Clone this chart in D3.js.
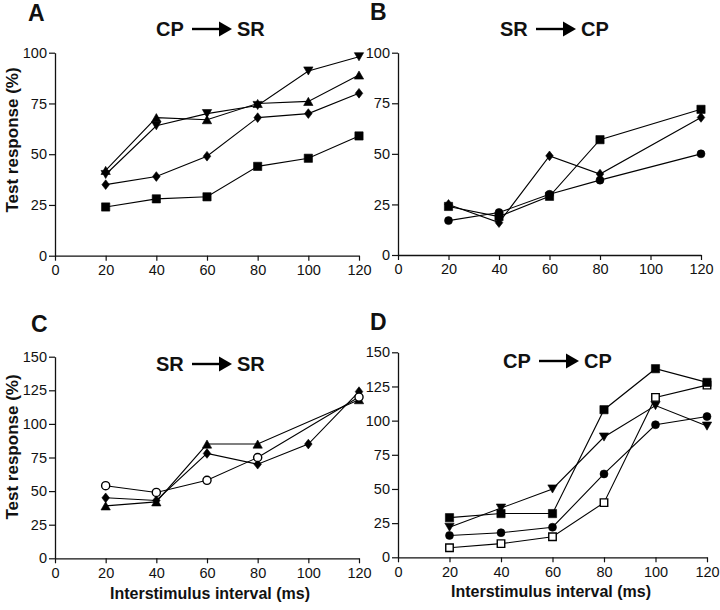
<!DOCTYPE html>
<html>
<head>
<meta charset="utf-8">
<script src="https://cdn.jsdelivr.net/npm/d3@7"></script>
<style>
  html, body { margin: 0; padding: 0; background: #fff; }
  svg { display: block; }
  text { font-family: "Liberation Sans", Arial, Helvetica, sans-serif; fill: #111; }
</style>
</head>
<body>
<svg id="chart" width="720" height="610"></svg>
<script>
// ---------------- DATA ----------------
const xTicks = [0, 20, 40, 60, 80, 100, 120];
const yTicksAB = [0, 25, 50, 75, 100];
const yTicksCD = [0, 25, 50, 75, 100, 125, 150];

const intervals6 = [20, 40, 60, 80, 100, 120];
const intervals5 = [20, 40, 60, 80, 120];

// Panel A: CP -> SR
const aTriDownX = intervals6, aTriDown = [40, 64, 70, 74, 91, 98];
const aTriUpX = intervals6,   aTriUp   = [42, 68, 67, 75, 76, 89];
const aDiamondX = intervals6, aDiamond = [35, 39, 49, 68, 70, 80];
const aSquareX = intervals6,  aSquare  = [24, 28, 29, 44, 48, 59];

// Panel B: SR -> CP
const bSquareX = intervals5,  bSquare  = [24, 19, 29, 57, 72];
const bDiamondX = intervals5, bDiamond = [25, 16, 49, 40, 68];
const bCircleX = intervals5,  bCircle  = [17, 21, 30, 37, 50];

// Panel C: SR -> SR
const cOpenCircleX = intervals5, cOpenCircle = [54, 49, 58, 75, 120];
const cDiamondX = intervals6,    cDiamond    = [45, 43, 78, 70, 85, 124];
const cTriUpX = intervals5,      cTriUp      = [39, 42, 85, 85, 118];

// Panel D: CP -> CP
const dSquareX = intervals6,     dSquare     = [29, 32, 32, 108, 138, 128];
const dOpenSquareX = intervals6, dOpenSquare = [7, 10, 15, 40, 117, 126];
const dTriDownX = intervals6,    dTriDown    = [22, 36, 50, 88, 111, 96];
const dCircleX = intervals6,     dCircle     = [16, 18, 22, 61, 97, 103];

// ---------------- MARKER SHAPES ----------------
const symSquare = { draw(c, s) { const h = Math.sqrt(s) / 2; c.rect(-h, -h, 2 * h, 2 * h); } };
const symDiamond = { draw(c, s) { const w = Math.sqrt(s) * 0.45, h = Math.sqrt(s) * 0.58;
  c.moveTo(0, -h); c.lineTo(w, 0); c.lineTo(0, h); c.lineTo(-w, 0); c.closePath(); } };
const symTriUp = { draw(c, s) { const w = Math.sqrt(s) * 0.55, h = Math.sqrt(s) * 0.48;
  c.moveTo(0, -h); c.lineTo(w, h); c.lineTo(-w, h); c.closePath(); } };
const symTriDown = { draw(c, s) { const w = Math.sqrt(s) * 0.55, h = Math.sqrt(s) * 0.48;
  c.moveTo(0, h); c.lineTo(w, -h); c.lineTo(-w, -h); c.closePath(); } };

const panels = [
  { letter: "A", from: "CP", to: "SR", yTicks: yTicksAB, yMax: 100,
    frame: { x0: 55, x1: 359, yb: 255.7, yt: 52.7 },
    letterPos: [28, 21], titlePos: [156, 36], ylabel: [18, 140], xlabel: null,
    series: [
      { x: aSquareX, y: aSquare, sym: symSquare, size: 68, fill: "#000" },
      { x: aDiamondX, y: aDiamond, sym: symDiamond, size: 70, fill: "#000" },
      { x: aTriUpX, y: aTriUp, sym: symTriUp, size: 72, fill: "#000" },
      { x: aTriDownX, y: aTriDown, sym: symTriDown, size: 72, fill: "#000" }
    ] },
  { letter: "B", from: "SR", to: "CP", yTicks: yTicksAB, yMax: 100,
    frame: { x0: 398, x1: 701, yb: 255, yt: 52.7 },
    letterPos: [370, 20], titlePos: [500, 36], ylabel: null, xlabel: null,
    series: [
      { x: bCircleX, y: bCircle, sym: d3.symbolCircle, size: 50, fill: "#000" },
      { x: bDiamondX, y: bDiamond, sym: symDiamond, size: 70, fill: "#000" },
      { x: bSquareX, y: bSquare, sym: symSquare, size: 68, fill: "#000" }
    ] },
  { letter: "C", from: "SR", to: "SR", yTicks: yTicksCD, yMax: 150,
    frame: { x0: 55, x1: 359, yb: 558.3, yt: 356.7 },
    letterPos: [31, 332], titlePos: [156, 371], ylabel: [18, 447], xlabel: [210, 599],
    series: [
      { x: cDiamondX, y: cDiamond, sym: symDiamond, size: 70, fill: "#000" },
      { x: cTriUpX, y: cTriUp, sym: symTriUp, size: 72, fill: "#000" },
      { x: cOpenCircleX, y: cOpenCircle, sym: d3.symbolCircle, size: 52, fill: "#fff" }
    ] },
  { letter: "D", from: "CP", to: "CP", yTicks: yTicksCD, yMax: 150,
    frame: { x0: 398, x1: 707, yb: 557.3, yt: 352.3 },
    letterPos: [370, 330], titlePos: [503, 368], ylabel: null, xlabel: [551, 597],
    series: [
      { x: dCircleX, y: dCircle, sym: d3.symbolCircle, size: 50, fill: "#000" },
      { x: dTriDownX, y: dTriDown, sym: symTriDown, size: 72, fill: "#000" },
      { x: dOpenSquareX, y: dOpenSquare, sym: symSquare, size: 56, fill: "#fff" },
      { x: dSquareX, y: dSquare, sym: symSquare, size: 68, fill: "#000" }
    ] }
];

const svg = d3.select("#chart");

panels.forEach(p => {
  const f = p.frame;
  const x = d3.scaleLinear().domain([0, 120]).range([f.x0, f.x1]);
  const y = d3.scaleLinear().domain([0, p.yMax]).range([f.yb, f.yt]);
  const g = svg.append("g");

  // axes
  const ax = g.append("g").attr("transform", `translate(0,${f.yb})`)
    .call(d3.axisBottom(x).tickValues(xTicks).tickSize(5).tickSizeOuter(0).tickPadding(4));
  const ay = g.append("g").attr("transform", `translate(${f.x0},0)`)
    .call(d3.axisLeft(y).tickValues(p.yTicks).tickSize(6).tickSizeOuter(0).tickPadding(2));
  [ax, ay].forEach(a => {
    a.selectAll("path.domain").attr("stroke", "#111").attr("stroke-width", 1.3);
    a.selectAll(".tick line").attr("stroke", "#111").attr("stroke-width", 1.2);
    a.selectAll(".tick text").attr("font-size", 14.5).attr("fill", "#111")
      .attr("font-family", "'Liberation Sans', Arial, Helvetica, sans-serif");
  });

  // lines
  const line = d3.line().x(d => x(d[0])).y(d => y(d[1]));
  p.series.forEach(s => {
    const pts = s.x.map((xv, i) => [xv, s.y[i]]);
    g.append("path").datum(pts).attr("d", line)
      .attr("fill", "none").attr("stroke", "#000").attr("stroke-width", 1.1);
  });
  // markers
  p.series.forEach(s => {
    const pts = s.x.map((xv, i) => [xv, s.y[i]]);
    g.selectAll(null).data(pts).enter().append("path")
      .attr("transform", d => `translate(${x(d[0])},${y(d[1])})`)
      .attr("d", d3.symbol().type(s.sym).size(s.size))
      .attr("fill", s.fill).attr("stroke", "#000").attr("stroke-width", s.fill === "#fff" ? 1.4 : 0.6);
  });

  // panel letter
  g.append("text").attr("x", p.letterPos[0]).attr("y", p.letterPos[1])
    .attr("font-size", 23).attr("font-weight", "bold").text(p.letter);

  // title: FROM -> TO
  const [tx, ty] = p.titlePos;
  g.append("text").attr("x", tx).attr("y", ty).attr("font-size", 20).attr("font-weight", "bold").text(p.from);
  const ax0 = tx + 36, ax1 = tx + 76, am = ty - 7;
  g.append("line").attr("x1", ax0).attr("x2", ax1 - 12).attr("y1", am).attr("y2", am)
    .attr("stroke", "#000").attr("stroke-width", 2.4);
  g.append("path").attr("d", d3.line()([[ax1 - 13, am - 7.5], [ax1, am], [ax1 - 13, am + 7.5]]) + "Z")
    .attr("fill", "#000");
  g.append("text").attr("x", tx + 81).attr("y", ty).attr("font-size", 20).attr("font-weight", "bold").text(p.to);

  if (p.ylabel) {
    g.append("text").attr("transform", `translate(${p.ylabel[0]},${p.ylabel[1]}) rotate(-90)`)
      .attr("text-anchor", "middle").attr("font-size", 17).attr("font-weight", "bold")
      .text("Test response (%)");
  }
  if (p.xlabel) {
    g.append("text").attr("x", p.xlabel[0]).attr("y", p.xlabel[1])
      .attr("text-anchor", "middle").attr("font-size", 16).attr("font-weight", "bold")
      .text("Interstimulus interval (ms)");
  }
});
</script>
</body>
</html>
